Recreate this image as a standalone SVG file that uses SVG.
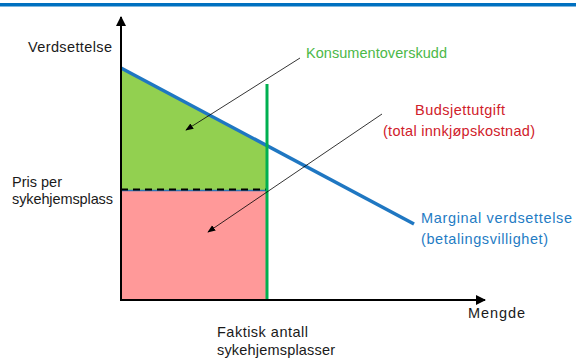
<svg xmlns="http://www.w3.org/2000/svg" width="576" height="359" viewBox="0 0 576 359">
<style>
  text { font-family: "Liberation Sans", Arial, sans-serif; font-size: 14.5px; }
  .blk { fill: #1a1a1a; }
  .grn { fill: #4CB848; }
  .red { fill: #D0202A; }
  .blu { fill: #1F7CC4; }
  .axis { stroke: #000; stroke-width: 2; fill: none; }
  .ptr { stroke: #000; stroke-width: 0.8; fill: none; }
</style>
<defs>
  <marker id="ah" viewBox="0 0 10 10" refX="9" refY="5" markerWidth="5" markerHeight="5" orient="auto" markerUnits="strokeWidth">
    <path d="M0,0 L10,5 L0,10 z" fill="#000"/>
  </marker>
  <marker id="ph" viewBox="0 0 10 10" refX="9" refY="5" markerWidth="10" markerHeight="10" orient="auto" markerUnits="strokeWidth">
    <path d="M0,1 L10,5 L0,9 z" fill="#000"/>
  </marker>
</defs>
<rect x="0" y="0" width="576" height="359" fill="#fff"/>
<rect x="0" y="3" width="576" height="3.5" fill="#0070C0"/>

<g id="areas">
  <polygon points="121,68 267,146 267,190 121,190" fill="#92D050"/>
  <rect x="121" y="190" width="146" height="109" fill="#FF9999"/>
</g>

<g id="price-line">
  <line x1="121" y1="190.5" x2="267" y2="190.5" stroke="#2E75B6" stroke-width="1.5"/>
  <line x1="121" y1="189.5" x2="267" y2="189.5" stroke="#000" stroke-width="2.2" stroke-dasharray="7,5"/>
</g>

<g id="demand">
  <line x1="121" y1="68" x2="414" y2="224" stroke="#1F77C2" stroke-width="3.5"/>
</g>

<g id="quantity">
  <line x1="267" y1="84" x2="267" y2="300" stroke="#00B050" stroke-width="3"/>
</g>

<g id="axes">
  <line class="axis" x1="121" y1="300" x2="121" y2="17" marker-end="url(#ah)"/>
  <line class="axis" x1="120" y1="300" x2="485" y2="300" marker-end="url(#ah)"/>
</g>

<g id="connectors">
  <line class="ptr" x1="300" y1="58" x2="186" y2="130" marker-end="url(#ph)"/>
  <line class="ptr" x1="382" y1="114" x2="208" y2="232" marker-end="url(#ph)"/>
</g>

<g id="labels">
  <text class="blk" x="28" y="52" textLength="84">Verdsettelse</text>
  <text class="grn" x="306" y="58" textLength="141">Konsumentoverskudd</text>
  <text class="red" x="415" y="115" textLength="90">Budsjettutgift</text>
  <text class="red" x="383" y="136" textLength="152">(total innkjøpskostnad)</text>
  <text class="blu" x="421" y="223" textLength="151">Marginal verdsettelse</text>
  <text class="blu" x="421" y="244" textLength="127">(betalingsvillighet)</text>
  <text class="blk" x="12" y="187">Pris per</text>
  <text class="blk" x="12" y="204" textLength="101">sykehjemsplass</text>
  <text class="blk" x="468" y="318" textLength="57">Mengde</text>
  <text class="blk" x="217" y="337" textLength="91">Faktisk antall</text>
  <text class="blk" x="217" y="355" textLength="118">sykehjemsplasser</text>
</g>
</svg>
